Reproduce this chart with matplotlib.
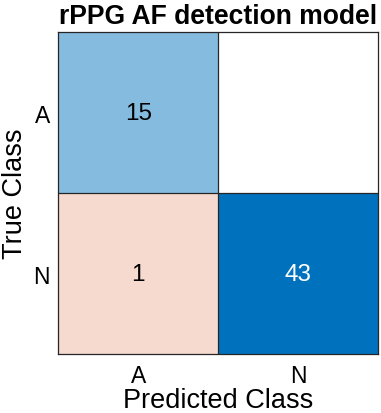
import matplotlib
matplotlib.use("Agg")
import matplotlib.pyplot as plt
import numpy as np
from matplotlib.colors import to_rgb

plt.rcParams['font.family'] = ['Liberation Sans', 'DejaVu Sans']

classes = ["A", "N"]
counts = [[15, None],
          [1, 43]]
cell_colors = [["#86BBE0", "#FFFFFF"],
               ["#F6D9CF", "#0072BD"]]
text_colors = [["black", "black"],
               ["black", "white"]]

fig = plt.figure(figsize=(3.81, 4.14), dpi=100)
ax = fig.add_axes([58.3/381, 1 - 355/414, (378 - 58.3)/381, (355 - 33.3)/414])

n = len(classes)
img = np.array([[to_rgb(c) for c in row] for row in cell_colors])
ax.imshow(img, extent=(-0.5, n - 0.5, n - 0.5, -0.5), aspect='auto', interpolation='nearest')
for i in range(n):
    for j in range(n):
        v = counts[i][j]
        if v is not None:
            ax.text(j, i, str(v), ha='center', va='center', fontsize=17.5, color=text_colors[i][j])
for k in range(1, n):
    ax.axhline(k - 0.5, color='#262626', lw=0.9)
    ax.axvline(k - 0.5, color='#262626', lw=0.9)

ax.set_xlim(-0.5, n - 0.5)
ax.set_ylim(n - 0.5, -0.5)
ax.set_xticks(range(n))
ax.set_xticklabels(classes, fontsize=16.5)
ax.set_yticks(range(n))
ax.set_yticklabels(classes, fontsize=16.5)
ax.tick_params(axis='x', length=0, pad=7)
ax.tick_params(axis='y', length=0, pad=6)
for s in ax.spines.values():
    s.set_color('#262626')
    s.set_linewidth(0.9)
ax.set_xlabel("Predicted Class", fontsize=19.5, labelpad=0)
ax.set_ylabel("True Class", fontsize=19.5, labelpad=4)
ax.set_title("rPPG AF detection model", fontsize=19.1, fontweight='bold', pad=6.5)

fig.savefig("out.png", dpi=100)
